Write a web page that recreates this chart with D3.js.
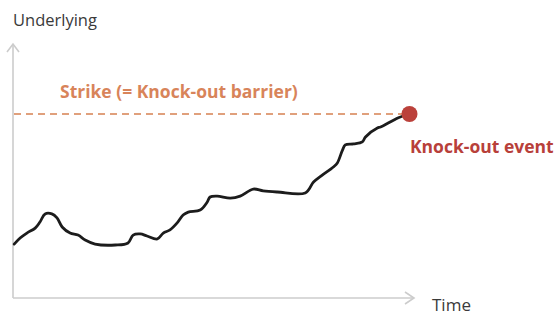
<!DOCTYPE html>
<html lang="en">
<head>
<meta charset="utf-8">
<script src="https://d3js.org/d3.v7.min.js"></script>
<style>
  body { margin: 0; background: #fff; }
  text { font-family: "Open Sans", "Noto Sans", sans-serif; }
</style>
</head>
<body>
<div id="chart"></div>
<script>
  // time (0 = start, 100 = knock-out) and underlying level (strike = 100)
  const time = [0.3, 1.8, 3.5, 5.6, 6.8, 8.1, 9.8, 11.1, 12.4, 14.4, 16.4, 18.2, 20.7, 25.8, 29.0,
    30.3, 32.1, 33.8, 36.4, 37.9, 39.6, 41.4, 42.9, 44.2, 47.2, 49.0, 49.7, 51.5, 54.8, 57.3,
    60.6, 63.1, 66.7, 73.7, 75.8, 78.0, 80.8, 81.8, 83.1, 83.8, 85.9, 88.1, 88.9, 91.9, 92.7,
    97.2, 100];
  const underlying = [29.3, 32.6, 35.3, 38.0, 41.3, 45.7, 45.7, 43.5, 38.6, 35.3, 34.2, 31.5, 29.3, 28.8, 29.9,
    34.2, 34.8, 33.7, 32.1, 35.3, 37.0, 40.8, 45.1, 46.7, 47.8, 52.2, 54.9, 55.4, 54.3, 55.4,
    59.2, 58.2, 57.6, 57.1, 63.0, 66.8, 71.2, 73.4, 80.4, 83.2, 83.7, 84.8, 87.5, 92.4, 92.9,
    98.0, 100];
  const strike = 100;
  const strikeLabel = "Strike (= Knock-out barrier)";
  const eventLabel = "Knock-out event";
  const yTitle = "Underlying";
  const xTitle = "Time";

  const W = 559, H = 315;
  const svg = d3.select("#chart").append("svg")
    .attr("width", W).attr("height", H);

  const x = d3.scaleLinear().domain([0, 100]).range([13, 409.5]);
  const y = d3.scaleLinear().domain([0, 100]).range([298, 114]);

  const axisColor = "#cccccc";
  const x0 = x(0), y0 = y(0);
  const yTop = 44, xEnd = 414;

  // axes
  const axes = svg.append("g")
    .attr("stroke", axisColor).attr("stroke-width", 1.6).attr("fill", "none");
  axes.append("path").attr("d", `M${x0},${y0}V${yTop}`);
  axes.append("path").attr("d", `M${x0},${y0}H${xEnd}`);
  axes.append("path").attr("d", `M${x0 - 6},${yTop + 8}L${x0},${yTop}L${x0 + 6},${yTop + 8}`);
  axes.append("path").attr("d", `M${xEnd - 9},${y0 - 6}L${xEnd},${y0}L${xEnd - 9},${y0 + 6}`);

  svg.append("text")
    .attr("x", 13).attr("y", 26)
    .attr("font-size", 16.5).attr("fill", "#3a3a3a")
    .text(yTitle);
  svg.append("text")
    .attr("x", 432).attr("y", 311)
    .attr("font-size", 17).attr("fill", "#3a3a3a")
    .text(xTitle);

  // strike line
  svg.append("line")
    .attr("x1", x0 + 1).attr("x2", x(100))
    .attr("y1", y(strike)).attr("y2", y(strike))
    .attr("stroke", "#e0a07c").attr("stroke-width", 1.8)
    .attr("stroke-dasharray", "7,5");
  svg.append("text")
    .attr("x", 60).attr("y", 98)
    .attr("font-size", 17.5).attr("font-weight", "bold").attr("fill", "#d8845a")
    .text(strikeLabel);

  // underlying path
  const pts = time.map((t, i) => [t, underlying[i]]);
  svg.append("path")
    .datum(pts)
    .attr("fill", "none")
    .attr("stroke", "#1c1c1c")
    .attr("stroke-width", 2.8)
    .attr("stroke-linejoin", "round")
    .attr("stroke-linecap", "round")
    .attr("d", d3.line().x(d => x(d[0])).y(d => y(d[1])).curve(d3.curveCatmullRom.alpha(0.5)));

  // knock-out event
  svg.append("circle")
    .attr("cx", x(100)).attr("cy", y(strike))
    .attr("r", 8)
    .attr("fill", "#bb413b");
  svg.append("text")
    .attr("x", 410).attr("y", 153)
    .attr("font-size", 17.5).attr("font-weight", "bold").attr("fill", "#b8403a")
    .text(eventLabel);
</script>
</body>
</html>
